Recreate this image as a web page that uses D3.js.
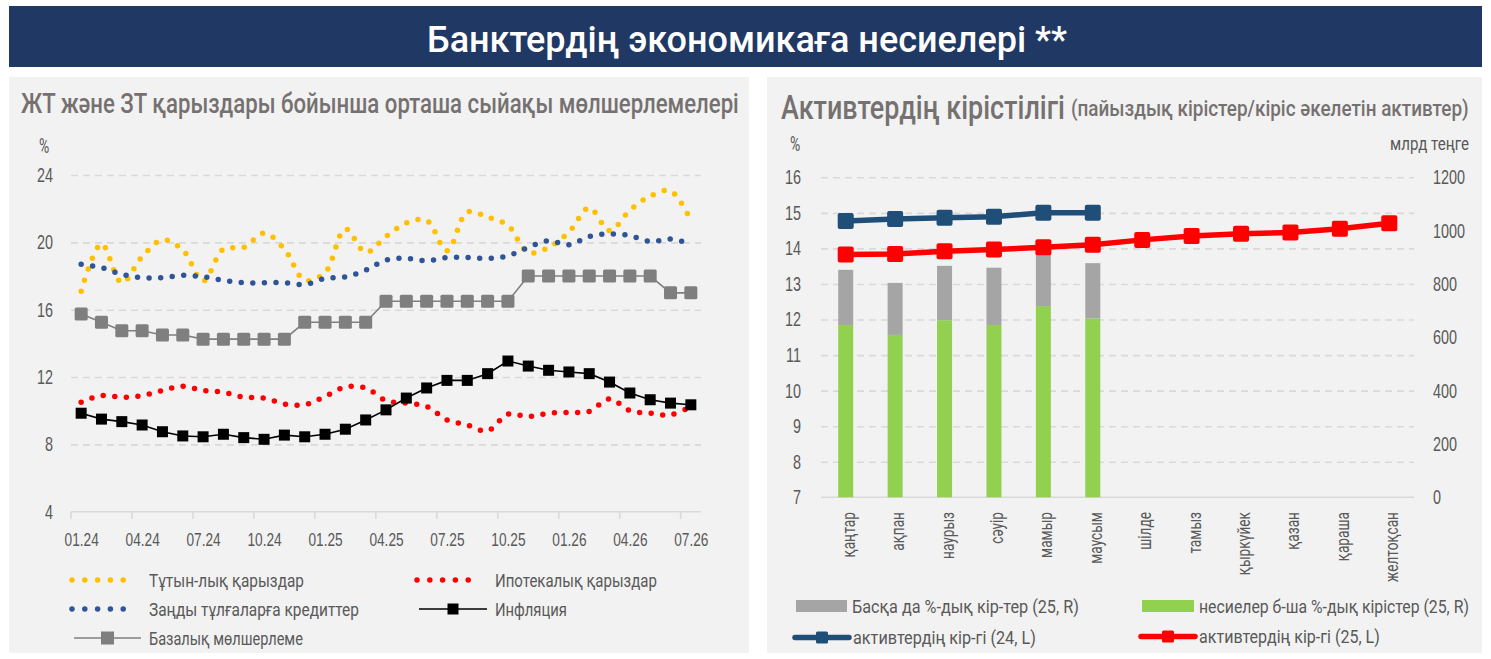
<!DOCTYPE html>
<html>
<head>
<meta charset="utf-8">
<script src="https://cdn.jsdelivr.net/npm/d3@7"></script>
<style>
  body { margin: 0; background: #fff; }
  svg { display: block; font-family: Roboto, 'Noto Sans', sans-serif; }
</style>
</head>
<body>
<div id="wrapper"></div>
<script>
// ---- data: left chart (monthly, %)
const months = ['01.24','02.24','03.24','04.24','05.24','06.24','07.24','08.24','09.24','10.24','11.24','12.24',
  '01.25','02.25','03.25','04.25','05.25','06.25','07.25','08.25','09.25','10.25','11.25','12.25',
  '01.26','02.26','03.26','04.26','05.26','06.26','07.26']
const consumerLoans = [17.1,19.9,17.6,19.15,20.15,19.55,17.7,19.6,19.7,20.55,19.6,17.75,
  18.2,20.8,19.4,20.35,21.15,21.3,19.5,21.8,21.5,21.0,19.4,19.7,
  20.6,22.05,20.7,21.9,22.75,23.05,21.3]
const mortgageLoans = [10.5,10.9,10.8,10.9,11.2,11.45,11.2,11.1,10.8,10.75,10.4,10.35,
  10.85,11.4,11.35,10.6,10.45,10.25,9.45,9.15,8.8,9.8,9.65,9.85,
  9.9,9.95,10.7,10.0,9.85,9.75,10.25]
const corporateLoans = [18.7,18.5,18.1,17.9,17.9,18.05,17.95,17.75,17.6,17.6,17.6,17.5,
  17.85,17.95,18.35,18.95,19.05,18.9,19.1,19.1,19.05,19.2,19.7,20.1,
  19.85,20.35,20.5,20.4,20.05,20.2,19.9]
const inflation = [9.85,9.5,9.35,9.15,8.75,8.5,8.45,8.6,8.4,8.3,8.55,8.45,
  8.6,8.9,9.45,10.05,10.75,11.35,11.8,11.8,12.2,12.95,12.65,12.4,
  12.3,12.2,11.7,11.05,10.65,10.45,10.35]
const baseRate = [15.75,15.25,14.75,14.75,14.5,14.5,14.25,14.25,14.25,14.25,14.25,15.25,
  15.25,15.25,15.25,16.5,16.5,16.5,16.5,16.5,16.5,16.5,18,18,
  18,18,18,18,18,17,17]
const leftTicks = [4, 8, 12, 16, 20, 24]

// ---- data: right chart
const monthNames = ['қаңтар','ақпан','наурыз','сәуір','мамыр','маусым','шілде','тамыз','қыркүйек','қазан','қараша','желтоқсан']
const loanIncome25 = [646, 609, 664, 646, 717, 671]      // млрд теңге, right axis
const otherIncome25 = [207, 195, 204, 215, 203, 207]     // млрд теңге, right axis
const yield24 = [14.77, 14.83, 14.86, 14.89, 15.0, 15.0] // %, left axis
const yield25 = [13.83, 13.84, 13.92, 13.97, 14.03, 14.10, 14.24, 14.35, 14.41, 14.45, 14.55, 14.71]
const rightTicksL = [7, 8, 9, 10, 11, 12, 13, 14, 15, 16]
const rightTicksR = [0, 200, 400, 600, 800, 1000, 1200]

const W = 1491, H = 659
const txt = '#595959'
const grid = '#d9d9d9'

const svg = d3.select('#wrapper').append('svg').attr('width', W).attr('height', H)

// squeeze text horizontally (the original uses a condensed face)
// k = factor, or target = wanted width in px
function condense(sel, k, target) {
  sel.each(function () {
    const el = d3.select(this)
    const f = target ? target / this.getComputedTextLength() : k
    const x0 = +el.attr('x') || 0, y0 = +el.attr('y') || 0
    const pre = el.attr('transform') || ''
    el.attr('x', 0).attr('y', 0)
      .attr('transform', `${pre} translate(${x0},${y0}) scale(${f},1)`)
  })
  return sel
}

// title bar
svg.append('rect').attr('x', 9).attr('y', 6).attr('width', 1473).attr('height', 61).attr('fill', '#203864')
condense(svg.append('text').attr('x', 747).attr('y', 52).attr('text-anchor', 'middle')
  .attr('fill', '#fff').attr('font-size', 36).attr('font-weight', 500).text('Банктердің экономикаға несиелері **'), 0, 640)

// panels
svg.append('rect').attr('x', 9).attr('y', 77).attr('width', 740).attr('height', 576).attr('fill', '#f2f2f2')
svg.append('rect').attr('x', 767).attr('y', 77).attr('width', 715).attr('height', 576).attr('fill', '#f2f2f2')

// =================== left chart ===================
const left = svg.append('g')
condense(left.append('text').attr('x', 21).attr('y', 113).attr('fill', '#767171').attr('font-size', 28)
  .attr('font-weight', 500).text('ЖТ және ЗТ қарыздары бойынша орташа сыйақы мөлшерлемелері'), 0, 718)
condense(left.append('text').attr('x', 44).attr('y', 153).attr('text-anchor', 'middle').attr('fill', txt)
  .attr('font-size', 20).text('%'), 0.7)

const x = d3.scaleBand().domain(d3.range(months.length)).range([71, 701])
const xc = i => x(i) + x.bandwidth() / 2
const y = d3.scaleLinear().domain([4, 24]).range([511.7, 175])

// gridlines
left.append('g').attr('transform', 'translate(71,0)')
  .call(d3.axisLeft(y).tickValues(leftTicks.slice(1)).tickSize(-630).tickFormat(''))
  .call(g => g.select('.domain').remove())
  .call(g => g.selectAll('line').attr('stroke', grid).attr('stroke-width', 1.6).attr('stroke-dasharray', '7 5'))

// y labels
const yAx = left.append('g').attr('transform', 'translate(53,0)')
  .call(d3.axisLeft(y).tickValues(leftTicks).tickSize(0).tickPadding(0).tickFormat(d3.format('d')))
yAx.select('.domain').remove()
yAx.selectAll('text').attr('font-size', 20).attr('fill', txt).attr('font-family', null)
condense(yAx.selectAll('text'), 0.72)

// x axis line + ticks at band boundaries
left.append('line').attr('x1', 71).attr('x2', 701).attr('y1', y(4)).attr('y2', y(4))
  .attr('stroke', grid).attr('stroke-width', 1.6)
left.append('g').selectAll('line').data(d3.range(0, months.length, 3)).join('line')
  .attr('x1', d => x(d)).attr('x2', d => x(d)).attr('y1', y(4)).attr('y2', y(4) + 7)
  .attr('stroke', grid).attr('stroke-width', 1.6)
const xLab = d3.scalePoint().domain(months).range([xc(0), xc(months.length - 1)])
const xAx = left.append('g').attr('transform', `translate(0,${y(4)})`)
  .call(d3.axisBottom(xLab).tickValues(months.filter((d, i) => i % 3 === 0)).tickSize(0).tickPadding(21))
xAx.select('.domain').remove()
xAx.selectAll('text').attr('font-size', 19).attr('fill', txt).attr('font-family', null)
condense(xAx.selectAll('text'), 0.72)

const smooth = d3.line().x((d, i) => xc(i)).y(d => y(d)).curve(d3.curveCatmullRom)
const straight = d3.line().x((d, i) => xc(i)).y(d => y(d))

const dotted = [
  { values: consumerLoans, color: '#ffc000' },
  { values: mortgageLoans, color: '#ff0000' },
  { values: corporateLoans, color: '#2f5597' },
]
dotted.forEach(s => {
  left.append('path').attr('d', smooth(s.values)).attr('fill', 'none')
    .attr('stroke', s.color).attr('stroke-width', 5.5).attr('stroke-linecap', 'round')
    .attr('stroke-dasharray', '0 11.6')
})

// base rate
left.append('path').attr('d', straight(baseRate)).attr('fill', 'none').attr('stroke', '#7f7f7f').attr('stroke-width', 1.6)
left.append('g').selectAll('rect').data(baseRate).join('rect')
  .attr('x', (d, i) => xc(i) - 6.5).attr('y', d => y(d) - 6.5).attr('width', 13).attr('height', 13)
  .attr('rx', 1.5).attr('fill', '#7f7f7f')

// inflation
left.append('path').attr('d', straight(inflation)).attr('fill', 'none').attr('stroke', '#000').attr('stroke-width', 1.6)
left.append('g').selectAll('rect').data(inflation).join('rect')
  .attr('x', (d, i) => xc(i) - 5.5).attr('y', d => y(d) - 5.5).attr('width', 11).attr('height', 11)
  .attr('fill', '#000')

// legend
const legL = left.append('g')
function dotLegend(x0, yy, color) {
  legL.append('line').attr('x1', x0).attr('x2', x0 + 64).attr('y1', yy).attr('y2', yy)
    .attr('stroke', color).attr('stroke-width', 5.5).attr('stroke-linecap', 'round').attr('stroke-dasharray', '0 12.8')
}
function markLegend(x0, x1, yy, color, size) {
  legL.append('line').attr('x1', x0).attr('x2', x1).attr('y1', yy).attr('y2', yy).attr('stroke', color).attr('stroke-width', 1.6)
  legL.append('rect').attr('x', (x0 + x1) / 2 - size / 2).attr('y', yy - size / 2).attr('width', size).attr('height', size).attr('fill', color)
}
function legText(g, x0, yy, label, w) {
  condense(g.append('text').attr('x', x0).attr('y', yy + 6.5).attr('fill', txt)
    .attr('font-size', 19).text(label), 0, w)
}
dotLegend(72, 580, '#ffc000'); legText(legL, 149, 580, 'Тұтын-лық қарыздар', 155)
dotLegend(417, 580, '#ff0000'); legText(legL, 495, 580, 'Ипотекалық қарыздар', 162)
dotLegend(72, 609, '#2f5597'); legText(legL, 149, 609, 'Заңды тұлғаларға кредиттер', 210)
markLegend(419, 487, 609, '#000', 11); legText(legL, 495, 609, 'Инфляция', 72)
markLegend(74, 141, 638, '#7f7f7f', 13); legText(legL, 149, 638, 'Базалық мөлшерлеме', 154)

// =================== right chart ===================
const right = svg.append('g')
condense(right.append('text').attr('x', 781).attr('y', 119).attr('fill', '#767171').attr('font-size', 33)
  .attr('font-weight', 500).text('Активтердің кірістілігі'), 0, 284)
condense(right.append('text').attr('x', 1071).attr('y', 116).attr('fill', '#767171').attr('font-size', 22)
  .attr('font-weight', 500).text('(пайыздық кірістер/кіріс әкелетін активтер)'), 0, 398)
condense(right.append('text').attr('x', 795).attr('y', 151).attr('text-anchor', 'middle').attr('fill', txt)
  .attr('font-size', 20).text('%'), 0.7)
condense(right.append('text').attr('x', 1469).attr('y', 150).attr('text-anchor', 'end').attr('fill', txt)
  .attr('font-size', 18).text('млрд теңге'), 0, 79)

const x2 = d3.scaleBand().domain(monthNames).range([821, 1414])
const x2c = d => x2(d) + x2.bandwidth() / 2
const yL = d3.scaleLinear().domain([7, 16]).range([497.3, 177.3])
const yR = d3.scaleLinear().domain([0, 1200]).range([497.3, 177.3])

right.append('g').attr('transform', 'translate(821,0)')
  .call(d3.axisLeft(yL).tickValues(rightTicksL.slice(1)).tickSize(-593).tickFormat(''))
  .call(g => g.select('.domain').remove())
  .call(g => g.selectAll('line').attr('stroke', grid).attr('stroke-width', 1.6).attr('stroke-dasharray', '7 5'))
right.append('line').attr('x1', 821).attr('x2', 1414).attr('y1', yL(7)).attr('y2', yL(7))
  .attr('stroke', grid).attr('stroke-width', 1.6)

const yLAx = right.append('g').attr('transform', 'translate(801,0)')
  .call(d3.axisLeft(yL).tickValues(rightTicksL).tickSize(0).tickPadding(0).tickFormat(d3.format('d')))
yLAx.select('.domain').remove()
yLAx.selectAll('text').attr('font-size', 20).attr('fill', txt).attr('font-family', null)
condense(yLAx.selectAll('text'), 0.72)

const yRAx = right.append('g').attr('transform', 'translate(1433,0)')
  .call(d3.axisRight(yR).tickValues(rightTicksR).tickSize(0).tickPadding(0).tickFormat(d3.format('d')))
yRAx.select('.domain').remove()
yRAx.selectAll('text').attr('font-size', 20).attr('fill', txt).attr('font-family', null)
condense(yRAx.selectAll('text'), 0.72)

// month labels (rotated)
right.append('g').selectAll('text').data(monthNames).join('text')
  .attr('transform', d => `translate(${x2c(d) + 9},512) rotate(-90)`)
  .attr('text-anchor', 'end').attr('font-size', 19).attr('fill', txt).text(d => d)
  .call(s => condense(s, 0.72))

// stacked bars
const barW = 15
right.append('g').selectAll('rect').data(loanIncome25).join('rect')
  .attr('x', (d, i) => x2c(monthNames[i]) - barW / 2).attr('width', barW)
  .attr('y', d => yR(d)).attr('height', d => yR(0) - yR(d)).attr('fill', '#92d050')
right.append('g').selectAll('rect').data(otherIncome25).join('rect')
  .attr('x', (d, i) => x2c(monthNames[i]) - barW / 2).attr('width', barW)
  .attr('y', (d, i) => yR(loanIncome25[i] + d)).attr('height', d => yR(0) - yR(d)).attr('fill', '#a5a5a5')

const lineR = d3.line().x((d, i) => x2c(monthNames[i])).y(d => yL(d))
function markedLine(values, color) {
  right.append('path').attr('d', lineR(values)).attr('fill', 'none').attr('stroke', color).attr('stroke-width', 5.5)
  right.append('g').selectAll('rect').data(values).join('rect')
    .attr('x', (d, i) => x2c(monthNames[i]) - 8).attr('y', d => yL(d) - 8)
    .attr('width', 16).attr('height', 16).attr('rx', 2).attr('fill', color)
}
markedLine(yield24, '#1f4e79')
markedLine(yield25, '#ff0000')

// legend
const legR = right.append('g')
legR.append('rect').attr('x', 796).attr('y', 600).attr('width', 51).attr('height', 12).attr('fill', '#a5a5a5')
legText(legR, 852, 606, 'Басқа да %-дық кір-тер (25, R)', 227)
legR.append('rect').attr('x', 1142).attr('y', 600).attr('width', 52).attr('height', 12).attr('fill', '#92d050')
legText(legR, 1199, 606, 'несиелер б-ша %-дық кірістер (25, R)', 270)
function lineLegend(x0, x1, yy, color) {
  legR.append('line').attr('x1', x0).attr('x2', x1).attr('y1', yy).attr('y2', yy)
    .attr('stroke', color).attr('stroke-width', 5.5).attr('stroke-linecap', 'round')
  legR.append('rect').attr('x', (x0 + x1) / 2 - 6).attr('y', yy - 6).attr('width', 12).attr('height', 12).attr('rx', 1.5).attr('fill', color)
}
lineLegend(795, 849, 637.5, '#1f4e79'); legText(legR, 853, 637.5, 'активтердің кір-гі  (24, L)', 183)
lineLegend(1141, 1195, 636.5, '#ff0000'); legText(legR, 1199, 636.5, 'активтердің кір-гі  (25, L)', 181)
</script>
</body>
</html>
